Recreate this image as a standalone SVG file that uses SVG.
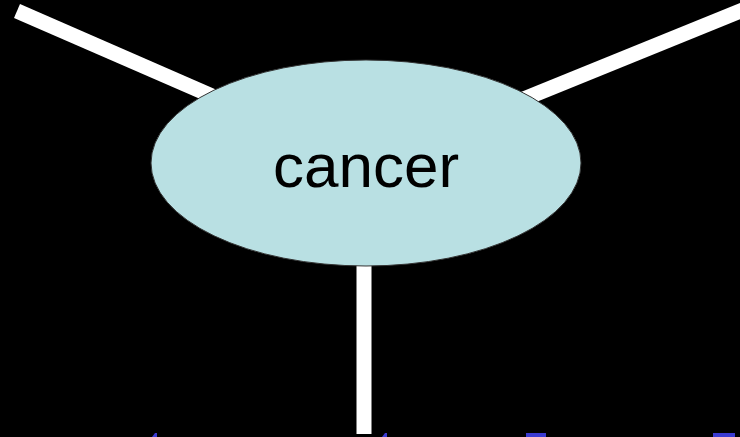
<svg xmlns="http://www.w3.org/2000/svg" width="740" height="437" viewBox="0 0 740 437">
<style>
.edge{stroke:#ffffff;stroke-width:15;fill:none;stroke-linecap:butt}
.node{fill:#b9e0e3;stroke:#333333;stroke-width:1}
.label{font-family:"Liberation Sans",Arial,sans-serif;font-size:62px;fill:#000000;text-anchor:middle}
.frag{fill:#3a3ad0}
</style>
<rect x="0" y="0" width="740" height="437" fill="#000000"/>
<g id="connectors">
<line class="edge" x1="17" y1="11" x2="366" y2="163"/>
<line class="edge" x1="760" y1="3" x2="366" y2="163"/>
<line class="edge" x1="364" y1="163" x2="364" y2="434"/>
</g>
<g id="cancer">
<ellipse class="node" cx="366" cy="163" rx="215" ry="103"/>
<text class="label" x="366" y="187">cancer</text>
</g>
<g id="fragments">
<polygon class="frag" points="152,437 155,433 157,433 157,437"/>
<polygon class="frag" points="382,437 385,433 387,433 387,437"/>
<rect class="frag" x="526" y="433" width="20" height="4"/>
<rect class="frag" x="713" y="433" width="22" height="4"/>
</g>
</svg>
